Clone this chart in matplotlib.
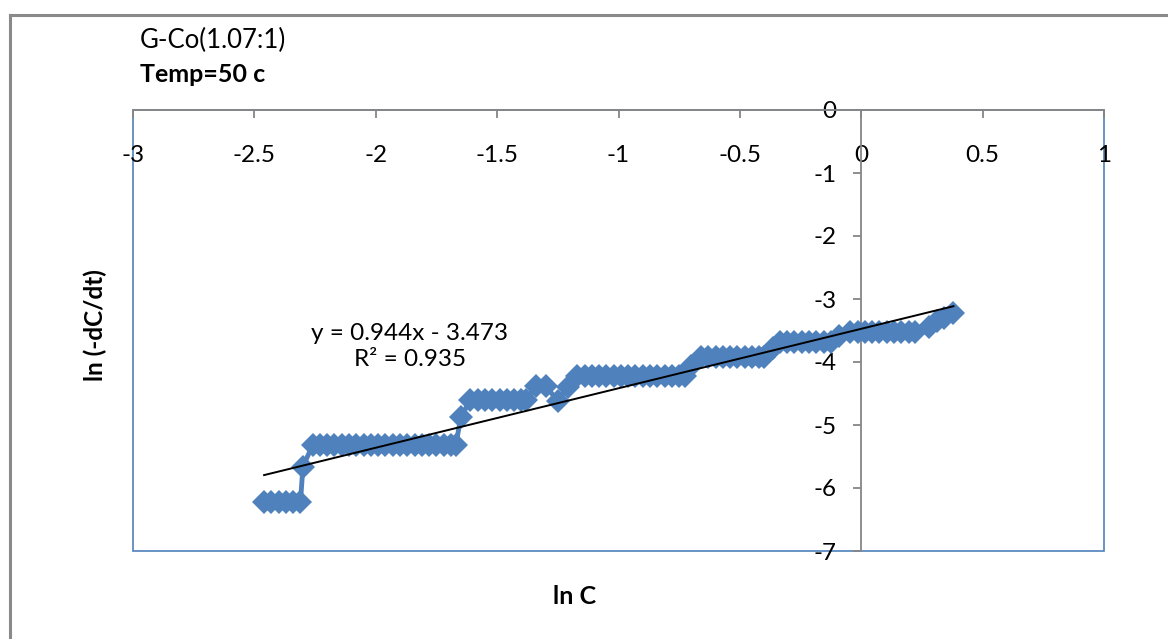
import numpy as np
import matplotlib
matplotlib.use("Agg")
import matplotlib.pyplot as plt
from matplotlib.patches import Rectangle
from matplotlib.lines import Line2D

plt.rcParams['font.family'] = ['Lato', 'DejaVu Sans']
plt.rcParams['axes.unicode_minus'] = False

# data: ln C vs ln(-dC/dt)
ln_c = [-2.46, -2.43, -2.40, -2.37, -2.34, -2.31,
        -2.30,
        -2.26, -2.23, -2.20, -2.17, -2.14, -2.11, -2.08, -2.05, -2.02, -1.99,
        -1.96, -1.93, -1.90, -1.87, -1.84, -1.81, -1.78, -1.75, -1.72, -1.69,
        -1.67,
        -1.65,
        -1.61, -1.58, -1.55, -1.52, -1.49, -1.46, -1.43, -1.40, -1.38,
        -1.34, -1.30,
        -1.25,
        -1.21,
        -1.17, -1.14, -1.11, -1.08, -1.05, -1.02, -0.99, -0.96, -0.93, -0.90,
        -0.87, -0.84, -0.81, -0.78, -0.75, -0.725,
        -0.70,
        -0.66, -0.63, -0.60, -0.57, -0.54, -0.51, -0.48, -0.45, -0.42, -0.40,
        -0.365,
        -0.335, -0.305, -0.275, -0.245, -0.215, -0.185, -0.155, -0.125,
        -0.09,
        -0.045, -0.015, 0.015, 0.045, 0.075, 0.105, 0.135, 0.165, 0.195, 0.22,
        0.28, 0.31, 0.34, 0.38]
ln_rate = [-6.22, -6.22, -6.22, -6.22, -6.22, -6.22,
           -5.66,
           -5.32, -5.32, -5.32, -5.32, -5.32, -5.32, -5.32, -5.32, -5.32, -5.32,
           -5.32, -5.32, -5.32, -5.32, -5.32, -5.32, -5.32, -5.32, -5.32, -5.32,
           -5.32,
           -4.88,
           -4.60, -4.60, -4.60, -4.60, -4.60, -4.60, -4.60, -4.60, -4.60,
           -4.38, -4.38,
           -4.62,
           -4.40,
           -4.23, -4.23, -4.23, -4.23, -4.23, -4.23, -4.23, -4.23, -4.23, -4.23,
           -4.23, -4.23, -4.23, -4.23, -4.23, -4.23,
           -4.06,
           -3.92, -3.92, -3.92, -3.92, -3.92, -3.92, -3.92, -3.92, -3.92, -3.92,
           -3.78,
           -3.68, -3.68, -3.68, -3.68, -3.68, -3.68, -3.68, -3.68,
           -3.59,
           -3.52, -3.52, -3.52, -3.52, -3.52, -3.52, -3.52, -3.52, -3.52, -3.52,
           -3.45, -3.35, -3.30, -3.22]

slope = 0.944
intercept = -3.473
r2 = 0.935

x_ticks = [-3, -2.5, -2, -1.5, -1, -0.5, 0, 0.5, 1]
x_labels = ['-3', '-2.5', '-2', '-1.5', '-1', '-0.5', '0', '0.5', '1']
y_ticks = [0, -1, -2, -3, -4, -5, -6, -7]

blue = '#4F81BD'
grey = '#868686'

fig = plt.figure(figsize=(11.68, 6.39), dpi=100)
ax = fig.add_axes([133 / 1168, 88 / 639, 971 / 1168, 441 / 639])

ax.plot(ln_c, ln_rate, color=blue, lw=3.5, marker='D', markersize=12.5,
        markeredgewidth=0, zorder=3)

# linear trendline over data range
xt = np.array([min(ln_c), max(ln_c)])
ax.plot(xt, slope * xt + intercept, color='black', lw=1.4, zorder=4)

ax.set_xlim(-3, 1)
ax.set_ylim(-7, 0)

# axes cross at origin, like Excel
ax.spines['bottom'].set_position(('data', 0))
ax.spines['left'].set_position(('data', 0))
ax.spines['top'].set_visible(False)
ax.spines['right'].set_visible(False)
for s in ['bottom', 'left']:
    ax.spines[s].set_color(grey)
    ax.spines[s].set_linewidth(1.3)
ax.add_patch(Rectangle((0, 0), 1, 1, transform=ax.transAxes, fill=False,
                       edgecolor=blue, lw=1.2, zorder=0, clip_on=False))

ax.set_xticks(x_ticks)
ax.set_xticklabels(x_labels)
ax.set_yticks(y_ticks)
ax.tick_params(axis='x', direction='out', length=6, width=1.3, color=grey,
               pad=19, labelsize=17.5)
ax.tick_params(axis='y', direction='out', length=6, width=1.3, color=grey,
               pad=12, labelsize=17.5)

ax.annotate('y = %.3fx - %.3f\nR² = %.3f' % (slope, -intercept, r2),
            xy=(-1.86, -3.76), ha='center', va='center', fontsize=17.5,
            linespacing=1.3)

fig.text(140 / 1168, 1 - 40 / 639, 'G-Co(1.07:1)', fontsize=18.5,
         ha='left', va='center')
fig.text(140 / 1168, 1 - 75 / 639, 'Temp=50 c', fontsize=18,
         fontweight='bold', ha='left', va='center')
fig.text(95 / 1168, 1 - 325 / 639, 'ln (-dC/dt)', fontsize=17.5,
         fontweight='bold', rotation=90, ha='center', va='center')
fig.text(575 / 1168, 1 - 596 / 639, 'ln C', fontsize=18,
         fontweight='bold', ha='center', va='center')

# outer frame of the chart
fig.add_artist(Line2D([10 / 1168, 1], [1 - 15 / 639, 1 - 15 / 639],
                      transform=fig.transFigure, color='#8a8a8a', lw=2.2))
fig.add_artist(Line2D([10 / 1168, 10 / 1168], [0, 1 - 15 / 639],
                      transform=fig.transFigure, color='#8a8a8a', lw=2.2))

fig.savefig('out.png', dpi=100)
